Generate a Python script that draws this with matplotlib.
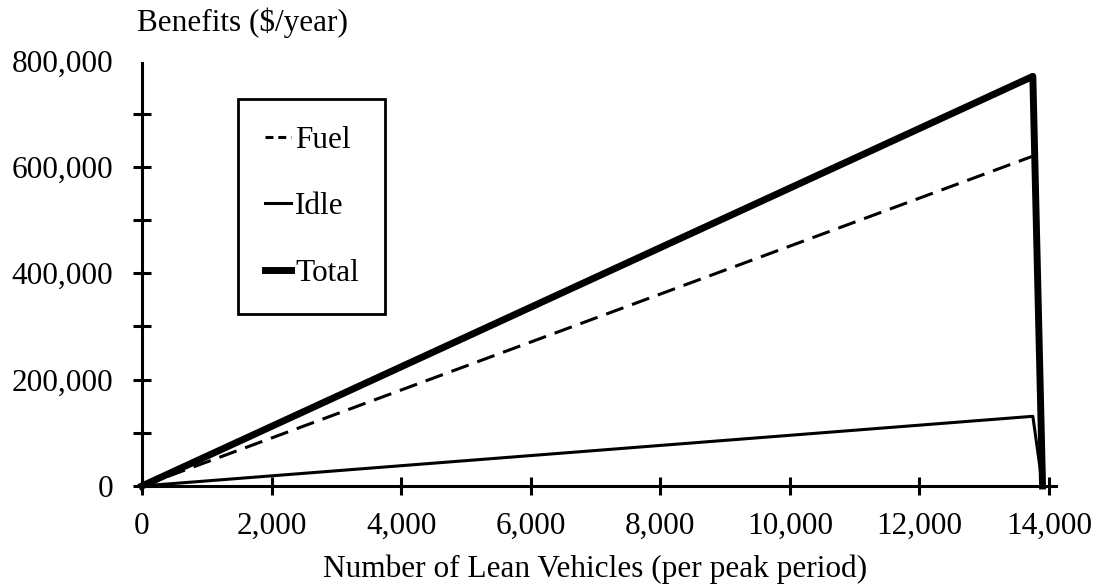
import matplotlib.pyplot as plt
from matplotlib.ticker import FuncFormatter, MultipleLocator

# values
vehicles = [0, 13750]
vehicles_drop = [0, 13750, 13900]
fuel = [0, 620000]
idle = [0, 131000, 0]
total = [0, 770000, 0]

xticks = [0, 2000, 4000, 6000, 8000, 10000, 12000, 14000]
yticks = [0, 200000, 400000, 600000, 800000]

plt.rcParams['font.family'] = ['Liberation Serif', 'DejaVu Serif']
fs = 22.5

fig = plt.figure(figsize=(10.98, 5.88), dpi=100)
ax = fig.add_axes([0.1293, 0.1735, 0.8261, 0.7238])

ax.plot(vehicles, fuel, color='black', lw=2.2, dashes=(6, 3), label='Fuel')
ax.plot(vehicles_drop, idle, color='black', lw=2.2, label='Idle', clip_on=False)
ax.plot(vehicles_drop, total, color='black', lw=5, label='Total', clip_on=False)

ax.set_xlim(0, 14000)
ax.set_ylim(0, 800000)
for s in ['top', 'right']:
    ax.spines[s].set_visible(False)
for s in ['left', 'bottom']:
    ax.spines[s].set_linewidth(2.2)
ax.spines['left'].set_bounds(0, 795000)
ax.spines['bottom'].set_bounds(0, 14100)

ax.set_xticks(xticks)
ax.set_yticks(yticks)
ax.yaxis.set_minor_locator(MultipleLocator(100000))
fmt = FuncFormatter(lambda v, p: f'{int(v):,}')
ax.xaxis.set_major_formatter(fmt)
ax.yaxis.set_major_formatter(fmt)
ax.tick_params(which='both', direction='inout', length=13, width=2.2, labelsize=fs)
ax.tick_params(axis='y', pad=14)
ax.tick_params(axis='x', pad=12)
ax.yaxis.get_major_ticks()[-1].tick1line.set_visible(False)

ax.set_xlabel('Number of Lean Vehicles (per peak period)', fontsize=fs, labelpad=10)
fig.text(0.125, 0.962, r'Benefits (\$/year)', fontsize=fs, ha='left', va='center')

leg = ax.legend(loc='upper left', bbox_to_anchor=(238 / 1098, 1 - 99 / 588),
                bbox_transform=fig.transFigure, fancybox=False, framealpha=1,
                edgecolor='black', handlelength=0.85, handletextpad=0.12,
                labelspacing=1.2, borderpad=0.85, borderaxespad=0, fontsize=fs)
leg.get_frame().set_linewidth(2)
leg.get_lines()[0].set_dashes([2.6, 1.6])

fig.savefig('out.png', dpi=100)
